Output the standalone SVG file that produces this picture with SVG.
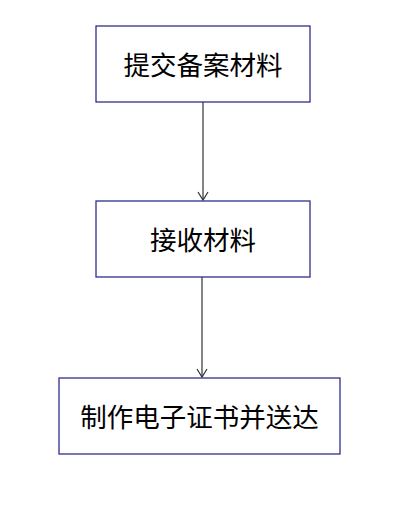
<svg xmlns="http://www.w3.org/2000/svg" width="399" height="507" viewBox="0 0 399 507">
<style>
.box{fill:#fff;stroke:#2e2e8a;stroke-width:1.3}
.t{font-family:"Noto Sans CJK SC",sans-serif;font-size:26.5px;fill:#000;text-anchor:middle;dominant-baseline:central}
.c{stroke:#333;stroke-width:1.2;fill:none}
</style>
<defs>
<marker id="ah" markerWidth="12" markerHeight="12" refX="10" refY="6" orient="auto" markerUnits="userSpaceOnUse">
<path d="M2,1 L10,6 L2,11" fill="none" stroke="#333" stroke-width="1.2"/>
</marker>
</defs>
<rect width="399" height="507" fill="#fff"/>
<g id="connectors">
<line class="c" x1="203" y1="102" x2="203" y2="200" marker-end="url(#ah)"/>
<line class="c" x1="202" y1="277" x2="202" y2="377" marker-end="url(#ah)"/>
</g>
<g id="n1"><rect class="box" x="96" y="26" width="214" height="76"/><text class="t" x="203" y="63">提交备案材料</text></g>
<g id="n2"><rect class="box" x="96" y="201" width="214" height="76"/><text class="t" x="203" y="238">接收材料</text></g>
<g id="n3"><rect class="box" x="59" y="378" width="281" height="76"/><text class="t" x="199.5" y="415">制作电子证书并送达</text></g>
</svg>
